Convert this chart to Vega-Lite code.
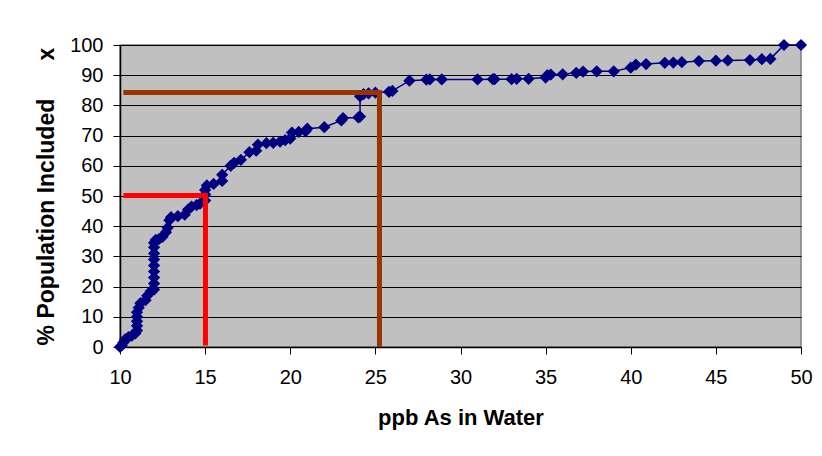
{
  "$schema": "https://vega.github.io/schema/vega-lite/v6.json",
  "width": 681,
  "height": 302,
  "autosize": {"type": "none"},
  "padding": {"left": 120, "top": 45, "right": 21, "bottom": 109},
  "background": "#FFFFFF",
  "config": {
    "view": {"fill": "#C0C0C0", "stroke": "#808080", "strokeWidth": 1.5},
    "font": "Liberation Sans",
    "axis": {
      "labelFont": "Liberation Sans",
      "titleFont": "Liberation Sans",
      "labelColor": "#000000",
      "titleColor": "#000000",
      "domainColor": "#000000",
      "tickColor": "#000000",
      "labelFontSize": 20,
      "labelFontWeight": "normal",
      "titleFontWeight": "bold",
      "labelOverlap": false
    }
  },
  "datasets": {
    "curve": [
      {"ppb": 10.0, "pct": 0},
      {"ppb": 10.1, "pct": 0.5},
      {"ppb": 10.2, "pct": 1.5},
      {"ppb": 10.3, "pct": 2.5},
      {"ppb": 10.5, "pct": 3.3},
      {"ppb": 10.7, "pct": 3.8},
      {"ppb": 10.9, "pct": 4.5},
      {"ppb": 11.0, "pct": 5.5},
      {"ppb": 11.0, "pct": 7},
      {"ppb": 11.0, "pct": 8.5},
      {"ppb": 11.0, "pct": 10},
      {"ppb": 11.0, "pct": 11.5},
      {"ppb": 11.1, "pct": 13},
      {"ppb": 11.2, "pct": 14.5},
      {"ppb": 11.5, "pct": 15.5},
      {"ppb": 11.6, "pct": 17},
      {"ppb": 11.8, "pct": 18.5},
      {"ppb": 12.0, "pct": 19},
      {"ppb": 12.0, "pct": 21},
      {"ppb": 12.0, "pct": 23},
      {"ppb": 12.0, "pct": 25},
      {"ppb": 12.0, "pct": 27},
      {"ppb": 12.0, "pct": 29},
      {"ppb": 12.0, "pct": 31},
      {"ppb": 12.0, "pct": 33},
      {"ppb": 12.0, "pct": 34.5},
      {"ppb": 12.1, "pct": 35.5},
      {"ppb": 12.3, "pct": 35.8},
      {"ppb": 12.5, "pct": 36.5},
      {"ppb": 12.7, "pct": 38},
      {"ppb": 12.8, "pct": 39.5},
      {"ppb": 12.9, "pct": 42},
      {"ppb": 13.0, "pct": 43},
      {"ppb": 13.4, "pct": 43.3},
      {"ppb": 13.8, "pct": 43.8},
      {"ppb": 14.0, "pct": 45.5},
      {"ppb": 14.2, "pct": 46.5},
      {"ppb": 14.5, "pct": 47},
      {"ppb": 14.7, "pct": 47.5},
      {"ppb": 15.0, "pct": 48.5},
      {"ppb": 15.0, "pct": 50.5},
      {"ppb": 15.0, "pct": 52},
      {"ppb": 15.1, "pct": 53.5},
      {"ppb": 15.5, "pct": 54},
      {"ppb": 16.0, "pct": 55},
      {"ppb": 16.0, "pct": 57},
      {"ppb": 16.5, "pct": 60},
      {"ppb": 16.7, "pct": 61},
      {"ppb": 17.1, "pct": 62},
      {"ppb": 17.6, "pct": 64.5},
      {"ppb": 18.0, "pct": 65},
      {"ppb": 18.1, "pct": 67},
      {"ppb": 18.6, "pct": 67.5},
      {"ppb": 19.0, "pct": 67.6},
      {"ppb": 19.4, "pct": 68},
      {"ppb": 19.7, "pct": 68.5},
      {"ppb": 20.0, "pct": 69},
      {"ppb": 20.1, "pct": 71},
      {"ppb": 20.5, "pct": 71.2},
      {"ppb": 20.9, "pct": 71.4},
      {"ppb": 21.0, "pct": 72.3},
      {"ppb": 22.0, "pct": 72.8},
      {"ppb": 23.0, "pct": 75},
      {"ppb": 23.1, "pct": 75.8},
      {"ppb": 24.0, "pct": 76},
      {"ppb": 24.1, "pct": 76.3},
      {"ppb": 24.1, "pct": 83},
      {"ppb": 24.3, "pct": 83.7},
      {"ppb": 24.6, "pct": 84},
      {"ppb": 25.0, "pct": 84.2},
      {"ppb": 25.8, "pct": 84.5},
      {"ppb": 26.0, "pct": 84.8},
      {"ppb": 27.0, "pct": 88.2},
      {"ppb": 28.0, "pct": 88.5},
      {"ppb": 28.2, "pct": 88.6},
      {"ppb": 28.9, "pct": 88.6},
      {"ppb": 31.0, "pct": 88.6},
      {"ppb": 31.9, "pct": 88.7},
      {"ppb": 32.0, "pct": 88.7},
      {"ppb": 33.0, "pct": 88.7},
      {"ppb": 33.3, "pct": 88.8},
      {"ppb": 34.0, "pct": 88.8},
      {"ppb": 35.0, "pct": 89.2},
      {"ppb": 35.1, "pct": 90},
      {"ppb": 35.3, "pct": 90.2},
      {"ppb": 36.0, "pct": 90.3},
      {"ppb": 36.8, "pct": 90.8},
      {"ppb": 37.2, "pct": 91.2},
      {"ppb": 38.0, "pct": 91.3},
      {"ppb": 39.0, "pct": 91.3},
      {"ppb": 40.0, "pct": 92.5},
      {"ppb": 40.3, "pct": 93.5},
      {"ppb": 40.9, "pct": 93.7},
      {"ppb": 42.0, "pct": 94.1},
      {"ppb": 42.5, "pct": 94.2},
      {"ppb": 43.0, "pct": 94.3},
      {"ppb": 44.0, "pct": 94.7},
      {"ppb": 45.0, "pct": 94.8},
      {"ppb": 45.7, "pct": 94.9},
      {"ppb": 47.0, "pct": 95.0},
      {"ppb": 47.7, "pct": 95.3},
      {"ppb": 48.2, "pct": 95.4},
      {"ppb": 49.0, "pct": 100},
      {"ppb": 50.0, "pct": 100}
    ],
    "guides": [
      {"series": "p50", "ord": 1, "ppb": 10.2, "pct": 50.2},
      {"series": "p50", "ord": 2, "ppb": 15.02, "pct": 50.2},
      {"series": "p50", "ord": 3, "ppb": 15.02, "pct": 0.5},
      {"series": "p84", "ord": 1, "ppb": 10.2, "pct": 84.3},
      {"series": "p84", "ord": 2, "ppb": 25.24, "pct": 84.3},
      {"series": "p84", "ord": 3, "ppb": 25.24, "pct": 0}
    ]
  },
  "encoding": {
    "x": {
      "field": "ppb", "type": "quantitative",
      "scale": {"domain": [10, 50], "nice": false, "zero": false},
      "axis": {
        "title": "ppb As in Water",
        "titleFontSize": 22,
        "titlePadding": 20,
        "values": [10, 15, 20, 25, 30, 35, 40, 45, 50],
        "tickSize": 7,
        "labelPadding": 13,
        "grid": false,
        "domainWidth": 1.5,
        "labelFlush": false
      }
    },
    "y": {
      "field": "pct", "type": "quantitative",
      "scale": {"domain": [0, 100], "nice": false, "zero": true},
      "axis": {
        "title": "% Population Included\u00a0\u00a0\u00a0\u00a0\u00a0\u00a0x",
        "titleFontSize": 23,
        "titlePadding": 11,
        "values": [0, 10, 20, 30, 40, 50, 60, 70, 80, 90, 100],
        "tickSize": 7,
        "labelPadding": 10,
        "grid": true,
        "gridColor": "#000000",
        "gridWidth": 1,
        "gridOpacity": 1,
        "domainWidth": 1.5
      }
    }
  },
  "layer": [
    {
      "data": {"name": "curve"},
      "mark": {
        "type": "line",
        "color": "#000080",
        "strokeWidth": 1.5,
        "point": {"shape": "diamond", "filled": true, "size": 150, "color": "#000080", "opacity": 1}
      },
      "encoding": {
        "order": {"field": "ppb", "type": "quantitative"}
      }
    },
    {
      "data": {"name": "guides"},
      "mark": {"type": "line", "strokeWidth": 5, "strokeJoin": "miter", "strokeCap": "butt"},
      "encoding": {
        "order": {"field": "ord", "type": "quantitative"},
        "color": {
          "field": "series", "type": "nominal",
          "scale": {"domain": ["p50", "p84"], "range": ["#FF0000", "#993300"]},
          "legend": null
        }
      }
    }
  ]
}
